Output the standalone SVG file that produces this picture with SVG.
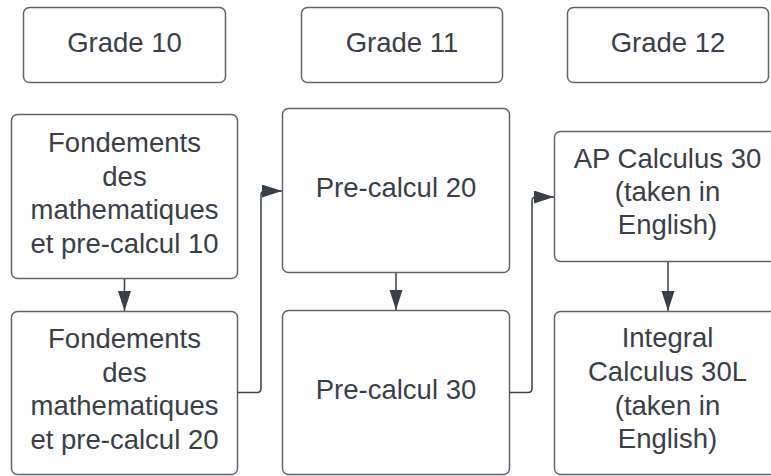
<svg xmlns="http://www.w3.org/2000/svg" width="771" height="476" viewBox="0 0 771 476">
<style>
.box{fill:#ffffff;stroke:#5e656e;stroke-width:1.5}
.t{font-family:"Liberation Sans",Arial,sans-serif;font-size:27.5px;fill:#3a4049;text-anchor:middle}
.c{fill:none;stroke:#3a4049;stroke-width:1.5;stroke-linejoin:round}
</style>
<defs>
<marker id="ah" markerUnits="userSpaceOnUse" markerWidth="21" markerHeight="14" refX="20" refY="6.5" orient="auto">
<path d="M0,0 L20,6.5 L0,13 Z" fill="#3a4049"/>
</marker>
</defs>
<rect width="771" height="476" fill="#ffffff"/>
<g id="grade10"><rect class="box" x="23.5" y="7.5" width="202" height="75" rx="6"/><text class="t" x="124.5" y="52">Grade 10</text></g>
<g id="grade11"><rect class="box" x="301.5" y="7.5" width="201" height="75" rx="6"/><text class="t" x="402" y="52">Grade 11</text></g>
<g id="grade12"><rect class="box" x="567.5" y="7.5" width="201" height="75" rx="6"/><text class="t" x="668" y="52">Grade 12</text></g>
<g id="fond10"><rect class="box" x="11.5" y="114.5" width="226" height="164" rx="6"/>
<text class="t" x="124.5" y="152">Fondements</text><text class="t" x="124.5" y="185.5">des</text><text class="t" x="124.5" y="219">mathematiques</text><text class="t" x="124.5" y="252.5">et pre-calcul 10</text></g>
<g id="fond20"><rect class="box" x="11.5" y="311.5" width="226" height="163" rx="6"/>
<text class="t" x="124.5" y="348">Fondements</text><text class="t" x="124.5" y="381.5">des</text><text class="t" x="124.5" y="415">mathematiques</text><text class="t" x="124.5" y="448.5">et pre-calcul 20</text></g>
<g id="pre20"><rect class="box" x="282.5" y="108.5" width="227" height="164" rx="6"/><text class="t" x="396" y="197">Pre-calcul 20</text></g>
<g id="pre30"><rect class="box" x="282.5" y="310.5" width="227" height="164" rx="6"/><text class="t" x="396" y="399">Pre-calcul 30</text></g>
<g id="ap30"><rect class="box" x="554.5" y="131.5" width="227" height="130" rx="6"/>
<text class="t" x="667.5" y="168">AP Calculus 30</text><text class="t" x="667.5" y="201">(taken in</text><text class="t" x="667.5" y="234">English)</text></g>
<g id="int30l"><rect class="box" x="554.5" y="311.5" width="227" height="163" rx="6"/>
<text class="t" x="667.5" y="347">Integral</text><text class="t" x="667.5" y="381">Calculus 30L</text><text class="t" x="667.5" y="414.5">(taken in</text><text class="t" x="667.5" y="448">English)</text></g>
<g id="connectors">
<path class="c" d="M124.5,279 L124.5,311" marker-end="url(#ah)"/>
<path class="c" d="M238,392.5 L257,392.5 Q261,392.5 261,388.5 L261,195 Q261,191 265,191 L282,191" marker-end="url(#ah)"/>
<path class="c" d="M396,273 L396,310" marker-end="url(#ah)"/>
<path class="c" d="M510,392.5 L528,392.5 Q532,392.5 532,388.5 L532,201 Q532,197 536,197 L554,197" marker-end="url(#ah)"/>
<path class="c" d="M668,262 L668,311" marker-end="url(#ah)"/>
</g>
</svg>
